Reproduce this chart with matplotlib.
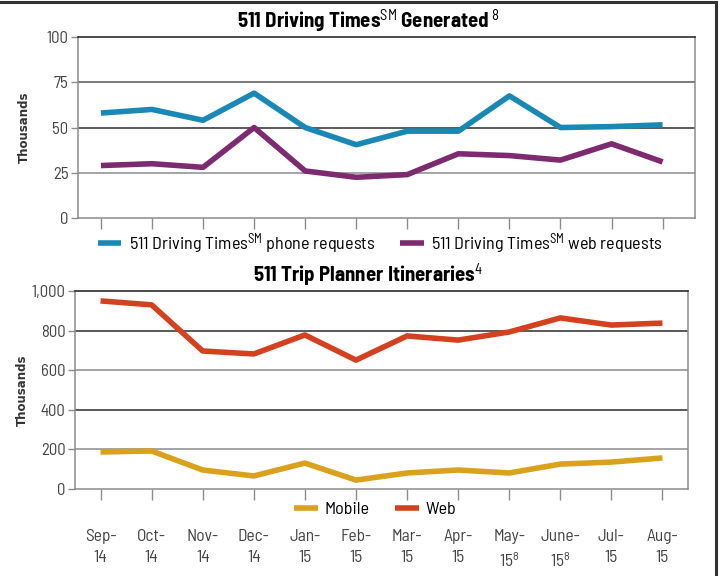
import matplotlib
matplotlib.use('Agg')
import matplotlib.pyplot as plt
from matplotlib.lines import Line2D

plt.rcParams['font.family'] = ['Barlow Semi Condensed', 'DejaVu Sans']
plt.rcParams['mathtext.fontset'] = 'custom'
plt.rcParams['mathtext.rm'] = 'Barlow Semi Condensed'
plt.rcParams['mathtext.bf'] = 'Barlow Semi Condensed:bold'

months = ['Sep-\n14', 'Oct-\n14', 'Nov-\n14', 'Dec-\n14', 'Jan-\n15', 'Feb-\n15',
          'Mar-\n15', 'Apr-\n15', 'May-\n15$\\mathregular{^8}$', 'June-\n15$\\mathregular{^8}$',
          'Jul-\n15', 'Aug-\n15']

# 511 Driving Times (thousands)
phone = [58, 60, 54, 69, 50, 40.5, 48, 48, 67.5, 50, 50.5, 51.5]
web_dt = [29, 30, 28, 50, 26, 22.5, 24, 35.5, 34.5, 32, 41, 31]

# 511 Trip Planner (thousands)
mobile = [187, 192, 96, 66, 131, 45, 81, 96, 81, 126, 136, 157]
web_tp = [950, 930, 697, 682, 778, 651, 773, 752, 793, 864, 828, 838]

x = list(range(len(months)))

c_phone = '#1a88b4'
c_webdt = '#7d2a70'
c_mobile = '#d9a11c'
c_webtp = '#d3411f'
dark = '#2b2b2b'
grey = '#8c8c8c'
txt = '#333333'

fig = plt.figure(figsize=(7.22, 5.76), dpi=100)

# outer frame (top and right)
fig.add_artist(Line2D([0, 0.9915], [0.997, 0.997], color=txt, lw=2.2, transform=fig.transFigure))
fig.add_artist(Line2D([0.9915, 0.9915], [0.997, 0.0], color=txt, lw=2.2, transform=fig.transFigure))

ax1 = fig.add_axes([0.108, 0.6215, 0.855, 0.3142])
ax2 = fig.add_axes([0.1039, 0.151, 0.849, 0.3438])


def style(ax, ticks, tick_labels, grid_colors, ymax):
    ax.set_ylim(0, ymax)
    ax.set_yticks(ticks)
    ax.set_yticklabels(tick_labels, fontsize=12, color='#444444')
    for t, c in zip(ticks[1:-1], grid_colors):
        ax.axhline(t, color=c, lw=1.1, zorder=1)
    for s in ['left', 'right', 'bottom']:
        ax.spines[s].set_color(grey)
        ax.spines[s].set_linewidth(1.1)
    ax.spines['top'].set_color(dark)
    ax.spines['top'].set_linewidth(1.2)
    ax.tick_params(axis='y', length=5, width=1, color=grey, pad=2)
    ax.tick_params(axis='x', length=8, width=1, color=grey)
    ax.set_ylabel('Thousands', fontsize=8.5, color=txt, fontweight='bold',
                  family=['DejaVu Sans'])


leg_kw = dict(loc='upper center', bbox_to_anchor=(0.49, 0.0), ncol=2, frameon=False,
              fontsize=13, handlelength=1.3, handletextpad=0.4, columnspacing=1.4,
              borderaxespad=0.3)

ax1.plot(x, phone, color=c_phone, lw=4, solid_capstyle='butt', zorder=3,
         label='511 Driving Times$\\mathrm{^{SM}}$ phone requests')
ax1.plot(x, web_dt, color=c_webdt, lw=4, solid_capstyle='butt', zorder=3,
         label='511 Driving Times$\\mathrm{^{SM}}$ web requests')
ax1.set_xlim(-0.45, 11.64)
ax1.set_xticks(x)
ax1.set_xticklabels([])
style(ax1, [0, 25, 50, 75, 100], ['0', '25', '50', '75', '100'], [grey, dark, '#555555'], 100)
ax1.set_title('511 Driving Times$\\mathrm{^{SM}}$ Generated$\\,\\mathrm{^{8}}$',
              fontsize=15, fontweight='bold', pad=6, x=0.47)
ax1.yaxis.set_label_coords(-0.076, 0.5)
ax1.legend(**leg_kw)

ax2.plot(x, mobile, color=c_mobile, lw=4, solid_capstyle='butt', zorder=3, label='Mobile')
ax2.plot(x, web_tp, color=c_webtp, lw=4, solid_capstyle='butt', zorder=3, label='Web')
ax2.set_xlim(-0.5, 11.5)
ax2.set_xticks(x)
ax2.set_xticklabels(months, fontsize=12.5, color='#444444', linespacing=1.45)
ax2.tick_params(axis='x', pad=21)
style(ax2, [0, 200, 400, 600, 800, 1000], ['0', '200', '400', '600', '800', '1,000'],
      [grey, dark, grey, dark], 1000)
ax2.set_title('511 Trip Planner Itineraries$\\mathrm{^{4}}$',
              fontsize=15, fontweight='bold', pad=6, x=0.478)
ax2.yaxis.set_label_coords(-0.076, 0.5)
ax2.legend(**leg_kw)

fig.savefig('out.png', dpi=100)
